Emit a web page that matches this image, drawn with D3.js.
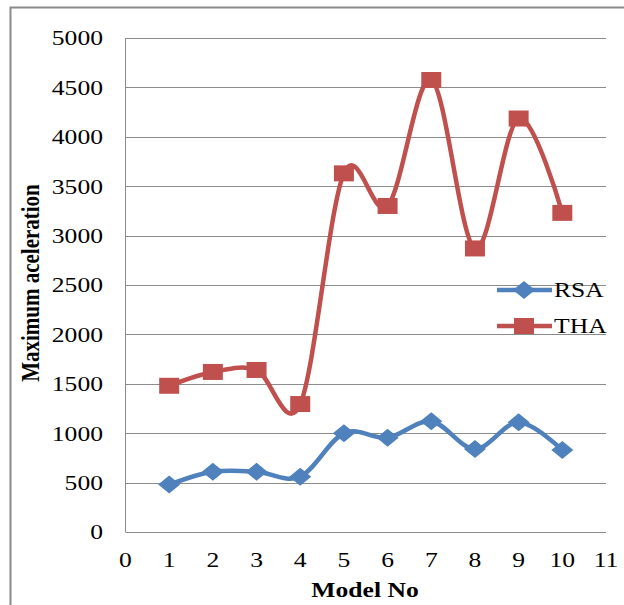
<!DOCTYPE html>
<html><head><meta charset="utf-8">
<script src="https://cdn.jsdelivr.net/npm/d3@7"></script>
<style>body{margin:0;background:#fff}svg{display:block}</style>
</head><body><svg id="c" width="624" height="605"></svg>
<script>
const models = [1,2,3,4,5,6,7,8,9,10];
const rsa = [480,610,610,560,1000,955,1120,840,1110,830];
const tha = [1480,1620,1640,1295,3630,3300,4575,2870,4185,3230];
const yTicks = [0,500,1000,1500,2000,2500,3000,3500,4000,4500,5000];
const xTicks = [0,1,2,3,4,5,6,7,8,9,10,11];
const seriesNames = ["RSA","THA"];

const svg = d3.select("#c");
const SX = 1.22; // horizontal stretch of the original image
const x = d3.scaleLinear().domain([0,11]).range([125.5,606]);
const y = d3.scaleLinear().domain([0,5000]).range([532,38]);

// frame
svg.append("path").attr("d","M10.5,605 V7.5 H624").attr("fill","none").attr("stroke","#8a8a8a").attr("stroke-width",2);

// gridlines
svg.append("g").selectAll("line").data(yTicks.filter(d=>d>0)).join("line")
  .attr("x1",x(0)).attr("x2",x(11)).attr("y1",d=>Math.round(y(d))+0.5).attr("y2",d=>Math.round(y(d))+0.5)
  .attr("stroke","#8c8c8c").attr("stroke-width",1);
// axes lines
svg.append("line").attr("x1",x(0)).attr("x2",x(0)).attr("y1",y(5000)).attr("y2",y(0)).attr("stroke","#8c8c8c");
svg.append("line").attr("x1",x(0)).attr("x2",x(11)).attr("y1",y(0)+0.5).attr("y2",y(0)+0.5).attr("stroke","#8c8c8c");

const font = "'Liberation Serif','Times New Roman',serif";
// y tick labels
svg.append("g").selectAll("text").data(yTicks).join("text")
  .attr("transform",d=>`translate(103,${y(d)}) scale(${SX},1)`)
  .attr("text-anchor","end").attr("dy","0.35em")
  .style("font-family",font).style("font-size","21px").attr("fill","#000")
  .text(d=>d);
// x tick labels
svg.append("g").selectAll("text").data(xTicks).join("text")
  .attr("transform",d=>`translate(${x(d)},567) scale(${SX},1)`)
  .attr("text-anchor","middle")
  .style("font-family",font).style("font-size","21px").attr("fill","#000")
  .text(d=>d);
// axis titles
svg.append("text").attr("transform",`translate(365,597) scale(${SX},1)`).attr("text-anchor","middle")
  .style("font-family",font).style("font-size","21px").style("font-weight","bold").text("Model No");
svg.append("text").attr("transform",`translate(39,283) rotate(-90) scale(1,${SX})`).attr("text-anchor","middle")
  .style("font-family",font).style("font-size","21px").style("font-weight","bold").text("Maximum aceleration");

const colors = {RSA:"#4F81BD", THA:"#C0504D"};
const line = d3.line().x((d,i)=>x(models[i])).y(d=>y(d)).curve(d3.curveCatmullRom.alpha(0));

function drawSeries(vals, name, marker){
  const g = svg.append("g");
  g.append("path").attr("d",line(vals)).attr("fill","none").attr("stroke",colors[name]).attr("stroke-width",4.5).attr("stroke-linejoin","round");
  g.selectAll(".m").data(vals).join("path")
    .attr("transform",(d,i)=>`translate(${x(models[i])},${y(d)})`)
    .attr("d",marker).attr("fill",colors[name]);
}
const square = "M-10,-8H10V8H-10Z";
const diamond = "M0,-9L11,0L0,9L-11,0Z";
drawSeries(rsa,"RSA",diamond);
drawSeries(tha,"THA",square);

// legend
const leg = [{n:"RSA",y:290,m:diamond},{n:"THA",y:326,m:square}];
const lg = svg.append("g");
lg.selectAll("line").data(leg).join("line").attr("x1",497).attr("x2",552).attr("y1",d=>d.y).attr("y2",d=>d.y)
  .attr("stroke",d=>colors[d.n]).attr("stroke-width",4.5);
lg.selectAll("path").data(leg).join("path").attr("transform",d=>`translate(524,${d.y})`).attr("d",d=>d.m).attr("fill",d=>colors[d.n]);
lg.selectAll("text").data(leg).join("text").attr("transform",d=>`translate(554,${d.y}) scale(${SX},1)`).attr("dy","0.35em")
  .style("font-family",font).style("font-size","21px").text(d=>d.n);
</script></body></html>
